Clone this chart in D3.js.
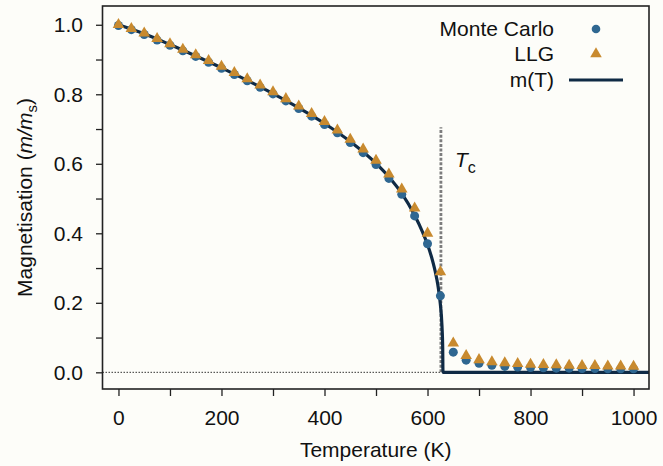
<!DOCTYPE html>
<html>
<head>
<meta charset="utf-8">
<script src="https://cdn.jsdelivr.net/npm/d3@7"></script>
<style>
  html, body { margin: 0; padding: 0; background: #fdfdf9; }
  svg { display: block; font-family: "Liberation Sans", Arial, sans-serif; }
</style>
</head>
<body>
<svg id="chart" width="663" height="466"></svg>
<script>
// ---- data ----
const temperatures = [0,25,50,75,100,125,150,175,200,225,250,275,300,325,350,375,400,425,450,475,500,525,550,575,600,625,650,675,700,725,750,775,800,825,850,875,900,925,950,975,1000];
const monteCarlo = [0.998,0.986,0.972,0.956,0.941,0.925,0.909,0.892,0.875,0.857,0.839,0.820,0.801,0.781,0.759,0.737,0.713,0.689,0.661,0.632,0.598,0.558,0.512,0.450,0.370,0.220,0.058,0.035,0.026,0.020,0.017,0.015,0.014,0.013,0.012,0.012,0.011,0.011,0.010,0.010,0.010];
const llg = [1.000,0.989,0.976,0.960,0.945,0.929,0.913,0.897,0.880,0.862,0.844,0.826,0.807,0.787,0.766,0.744,0.721,0.697,0.670,0.642,0.610,0.570,0.527,0.472,0.400,0.289,0.084,0.048,0.036,0.030,0.027,0.025,0.023,0.022,0.021,0.020,0.019,0.019,0.018,0.018,0.017];
const fitT = [0,50,100,150,200,250,300,350,400,450,500,525,550,575,590,600,610,615,620,625,628,629.5,630,1030];
const fitM = [1.0,0.974,0.943,0.910,0.876,0.840,0.802,0.761,0.716,0.664,0.601,0.562,0.515,0.452,0.405,0.368,0.320,0.290,0.252,0.195,0.135,0.07,0.0,0.0];
const curieT = 626;
const curieTop = 0.705;
const xTicks = [0,100,200,300,400,500,600,700,800,900,1000];
const xTickLabels = ["0","","200","","400","","600","","800","","1000"];
const yTicks = [0,0.1,0.2,0.3,0.4,0.5,0.6,0.7,0.8,0.9,1.0];
const yTickLabels = ["0.0","","0.2","","0.4","","0.6","","0.8","","1.0"];
const legendLabels = ["Monte Carlo","LLG","m(T)"];

// ---- layout ----
const L = 102.5, R = 649, T = 6, B = 389;
const svg = d3.select("#chart");
const x = d3.scaleLinear().domain([-31, 1030]).range([L, R]);
const y = d3.scaleLinear().domain([-0.048, 1.054]).range([B, T]);

const cBlue = "#2f6791", cOrange = "#c88a2f", cLine = "#0f2a45";

svg.append("defs").append("clipPath").attr("id","clip")
  .append("rect").attr("x",L).attr("y",T).attr("width",R-L).attr("height",B-T);

// axes
const xAxis = d3.axisBottom(x).tickValues(xTicks).tickSize(7).tickPadding(14)
  .tickFormat((d,i) => xTickLabels[i]);
const gx = svg.append("g").attr("transform",`translate(0,${B})`).call(xAxis);
gx.select(".domain").remove();
gx.selectAll("line").attr("stroke","#222").attr("stroke-width",1.3);
gx.selectAll("text").attr("font-size",21).attr("fill","#111").attr("font-family","Liberation Sans, Arial, sans-serif");

const yAxis = d3.axisLeft(y).tickValues(yTicks).tickSize(6.5).tickPadding(13)
  .tickFormat((d,i) => yTickLabels[i]);
const gy = svg.append("g").attr("transform",`translate(${L},0)`).call(yAxis);
gy.select(".domain").remove();
gy.selectAll("line").attr("stroke","#222").attr("stroke-width",1.3);
gy.selectAll("text").attr("font-size",21).attr("fill","#111").attr("font-family","Liberation Sans, Arial, sans-serif");

// zero dotted line
svg.append("line")
  .attr("x1",L).attr("x2",x(curieT)).attr("y1",y(0)).attr("y2",y(0))
  .attr("stroke","#333").attr("stroke-width",1).attr("stroke-dasharray","1.5,1.5");

// Tc dashed line
svg.append("line")
  .attr("x1",x(curieT)).attr("x2",x(curieT)).attr("y1",y(0)).attr("y2",y(curieTop))
  .attr("stroke","#7d7d7d").attr("stroke-width",2.8).attr("stroke-dasharray","3,1.6");

// Tc label
const tc = svg.append("text").attr("x",455).attr("y",167).attr("font-size",21).attr("fill","#111");
tc.append("tspan").attr("font-style","italic").text("T");
tc.append("tspan").attr("font-size",16).attr("dy",6).text("c");

const plot = svg.append("g").attr("clip-path","url(#clip)");

// fit line
const fitData = fitT.map((t,i) => [t, fitM[i]]);
plot.append("path").datum(fitData)
  .attr("fill","none").attr("stroke",cLine).attr("stroke-width",3.2)
  .attr("d", d3.line().x(d => x(d[0])).y(d => y(d[1])).curve(d3.curveMonotoneX));

// Monte Carlo circles
plot.selectAll("circle.mc").data(temperatures.map((t,i)=>[t,monteCarlo[i]])).enter()
  .append("circle").attr("class","mc")
  .attr("cx",d=>x(d[0])).attr("cy",d=>y(d[1])).attr("r",4.5).attr("fill",cBlue);

// LLG triangles
const tri = d3.symbol().type(d3.symbolTriangle).size(58);
plot.selectAll("path.llg").data(temperatures.map((t,i)=>[t,llg[i]])).enter()
  .append("path").attr("class","llg")
  .attr("transform",d=>`translate(${x(d[0])},${y(d[1])})`)
  .attr("d",tri).attr("fill",cOrange);

// frame
svg.append("rect").attr("x",L).attr("y",T).attr("width",R-L).attr("height",B-T)
  .attr("fill","none").attr("stroke","#222").attr("stroke-width",1.6);

// legend
const lg = svg.append("g");
const rows = [29, 54, 80];
legendLabels.forEach((lab,i) => {
  lg.append("text").attr("x",554).attr("y",rows[i]+7).attr("text-anchor","end")
    .attr("font-size",21).attr("fill","#111").text(lab);
});
lg.append("circle").attr("cx",596).attr("cy",rows[0]).attr("r",4.3).attr("fill",cBlue);
lg.append("path").attr("transform",`translate(596,${rows[1]})`).attr("d",tri).attr("fill",cOrange);
lg.append("line").attr("x1",569).attr("x2",623).attr("y1",rows[2]).attr("y2",rows[2])
  .attr("stroke",cLine).attr("stroke-width",3);

// axis titles
svg.append("text").attr("x",(L+R)/2).attr("y",457).attr("text-anchor","middle")
  .attr("font-size",21).attr("fill","#111").text("Temperature (K)");

const yt = svg.append("text").attr("transform",`translate(32,${(T+B)/2}) rotate(-90)`)
  .attr("text-anchor","middle").attr("font-size",21).attr("fill","#111");
yt.append("tspan").text("Magnetisation (");
yt.append("tspan").attr("font-style","italic").text("m/m");
yt.append("tspan").attr("font-size",15).attr("dy",5).text("s");
yt.append("tspan").attr("dy",-5).text(")");
</script>
</body>
</html>
